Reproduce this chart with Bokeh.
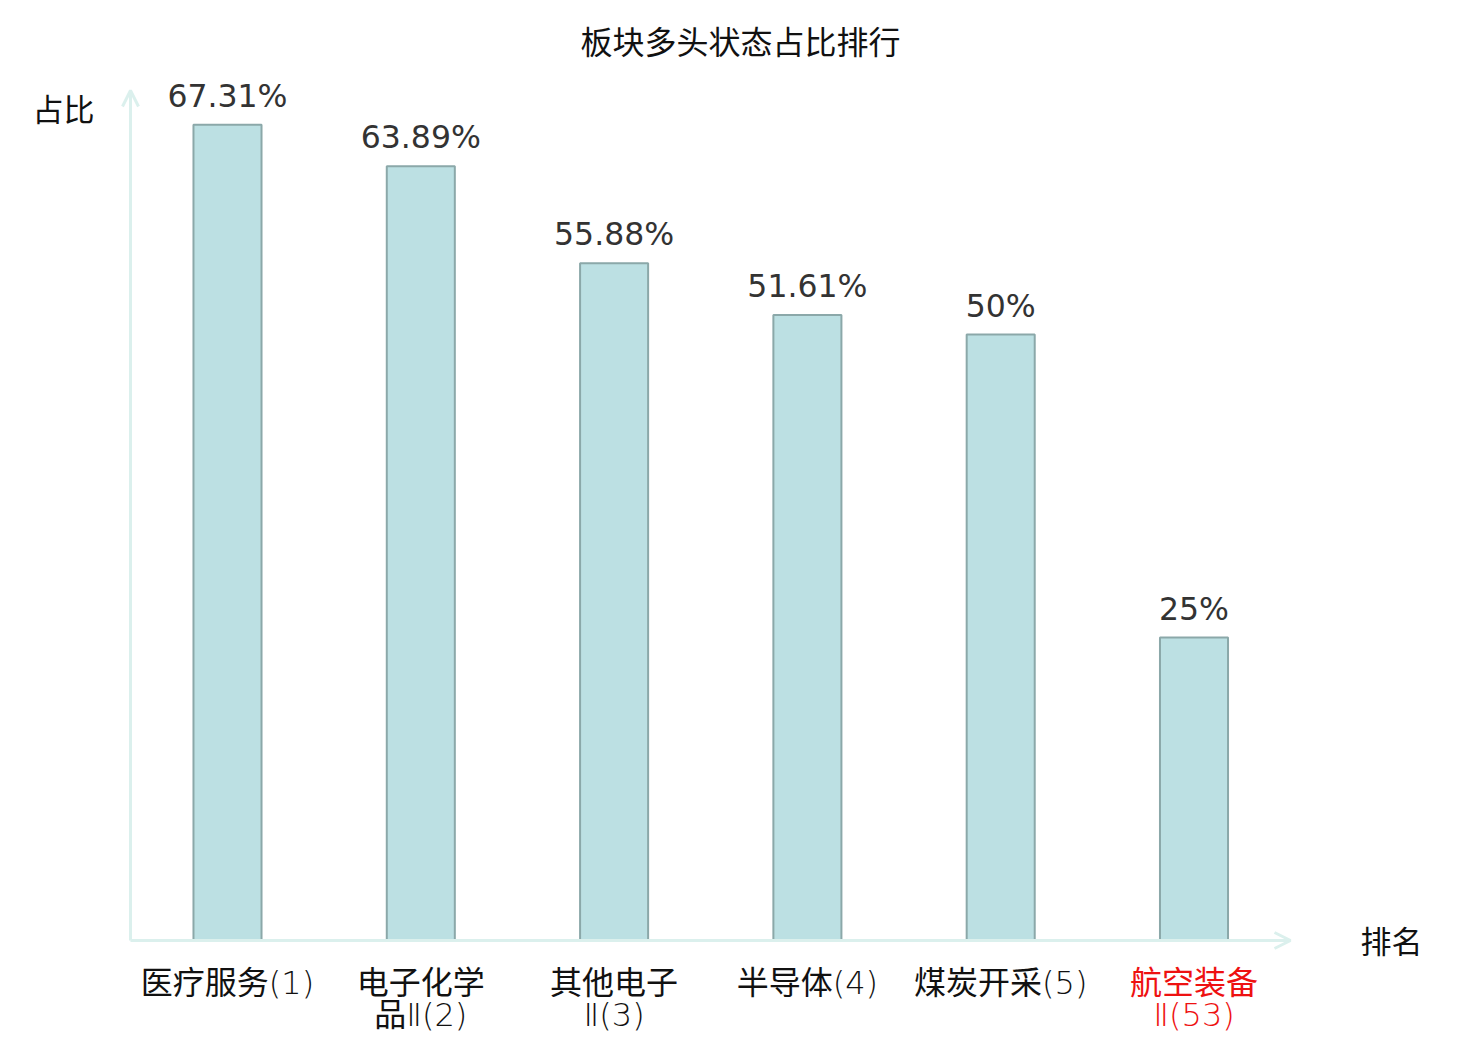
from bokeh.plotting import figure
from bokeh.models import ColumnDataSource, Range1d, Label, Arrow, OpenHead
from bokeh.embed import file_html
from bokeh.resources import INLINE
from bokeh.core.properties import value

# ---- data ----
categories = ["医疗服务(1)", "电子化学品Ⅱ(2)", "其他电子Ⅱ(3)", "半导体(4)", "煤炭开采(5)", "航空装备Ⅱ(53)"]
shares = [67.31, 63.89, 55.88, 51.61, 50, 25]
share_labels = ["67.31%", "63.89%", "55.88%", "51.61%", "50%", "25%"]
label_colors = ["#111111", "#111111", "#111111", "#111111", "#111111", "#ee1111"]
title_text = "板块多头状态占比排行"
y_title = "占比"
x_title = "排名"

# ---- layout ----
W, H = 1480, 1040
px_per_x = 193.3
x0_px = 227.0            # px of first bar centre
px_per_y = 12.12
base_px = 100.0          # px from bottom of y = 0

x_start = -x0_px / px_per_x
y_start = -base_px / px_per_y

def sx(page_x):
    return (page_x - x0_px) / px_per_x

def sy(page_y):
    return (H - page_y - base_px) / px_per_y

p = figure(width=W, height=H, output_backend="svg", toolbar_location=None,
           x_range=Range1d(x_start, x_start + W / px_per_x),
           y_range=Range1d(y_start, y_start + H / px_per_y),
           min_border=0, min_border_left=0, min_border_right=0,
           min_border_top=0, min_border_bottom=0)
p.axis.visible = False
p.grid.visible = False
p.outline_line_color = None
p.background_fill_color = "white"
p.border_fill_color = "white"

def wrap(s):
    if len(s) > 7:
        return s[:4], s[4:]
    return s, ""

line1 = [wrap(c)[0] for c in categories]
line2 = [wrap(c)[1] for c in categories]
xs = list(range(len(categories)))

src = ColumnDataSource(dict(x=xs, top=shares, lab=share_labels,
                            l1=line1, l2=line2, col=label_colors,
                            zero=[0] * len(xs)))

# axes with arrows
axis_color = "#dbf0ed"
p.add_layout(Arrow(end=OpenHead(size=16, line_color=axis_color, line_width=3),
                   x_start=sx(130), y_start=0, x_end=sx(130), y_end=sy(90),
                   line_color=axis_color, line_width=3))
p.add_layout(Arrow(end=OpenHead(size=16, line_color=axis_color, line_width=3),
                   x_start=sx(130), y_start=0, x_end=sx(1290), y_end=0,
                   line_color=axis_color, line_width=3))

p.vbar(x="x", top="top", bottom=0, width=0.352, source=src,
       fill_color="#bce0e3", line_color="#8ba8a9", line_width=2)

p.text(x="x", y="top", text="lab", source=src, text_align="center",
       text_baseline="alphabetic", y_offset=-29, text_color="#333333",
       text_font=value("DejaVu Sans"), text_font_size="31.5px")

cat_font = value("DejaVu Sans Light, Roboto Light, Noto Sans CJK SC")
p.text(x="x", y="zero", text="l1", source=src, text_align="center",
       text_baseline="middle", y_offset=42, text_color="col",
       text_font=cat_font, text_font_size="32px")
p.text(x="x", y="zero", text="l2", source=src, text_align="center",
       text_baseline="middle", y_offset=74, text_color="col",
       text_font=cat_font, text_font_size="32px")

def lab(text, page_x, page_y, size):
    p.add_layout(Label(x=page_x, y=H - page_y, x_units="screen", y_units="screen",
                       text=text, text_align="center", text_baseline="middle",
                       text_font="Noto Sans CJK SC", text_font_size=size,
                       text_color="#111111"))

lab(title_text, 740, 39, "32px")
lab(y_title, 63, 107, "31px")
lab(x_title, 1391, 939, "31px")

open("out.html", "w").write(file_html(p, INLINE))
